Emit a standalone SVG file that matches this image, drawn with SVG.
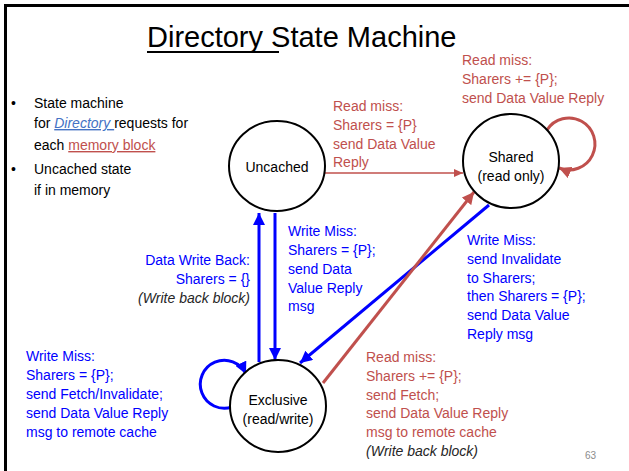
<svg xmlns="http://www.w3.org/2000/svg" width="629" height="471" viewBox="0 0 629 471">
<style>
text{font-family:"Liberation Sans",Arial,sans-serif;}
.t{font-size:14px;}
.r{fill:#C0504D;}
.b{fill:#0000FF;}
.k{fill:#000000;}
.i{font-style:italic;fill:#262626;}
.node{fill:#FFFFFF;stroke:#000000;stroke-width:2;}
.nt{font-size:14px;fill:#000000;text-anchor:middle;}
.bl{stroke:#0000FF;stroke-width:3;fill:none;}
.rl{stroke:#C0504D;stroke-width:3;fill:none;}
.rt{stroke:#C0504D;stroke-width:1.5;fill:none;}
</style>
<defs>
<marker id="ab" markerUnits="userSpaceOnUse" markerWidth="14" markerHeight="12" refX="12" refY="6" orient="auto"><path d="M0,0 L12,6 L0,12 Z" fill="#0000FF"/></marker>
<marker id="ar" markerUnits="userSpaceOnUse" markerWidth="14" markerHeight="12" refX="12" refY="6" orient="auto"><path d="M0,0 L12,6 L0,12 Z" fill="#C0504D"/></marker>
<marker id="ars" markerUnits="userSpaceOnUse" markerWidth="10" markerHeight="8" refX="9" refY="4" orient="auto"><path d="M0,0 L9,4 L0,8 Z" fill="#C0504D"/></marker>
</defs>
<rect width="629" height="471" fill="#FFFFFF"/>
<path d="M5.5,471 L5.5,5.5 L629,5.5" fill="none" stroke="#000000" stroke-width="3"/>

<g id="title">
<text x="147" y="47" font-size="29" fill="#000000">Directory State Machine</text>
<line x1="147" y1="52" x2="279" y2="52" stroke="#000000" stroke-width="2"/>
</g>

<g id="bullets" class="t">
<text x="11" y="108" class="k">•</text>
<text x="34" y="108" class="k">State machine</text>
<text x="34" y="128" class="k">for <tspan fill="#4472C4" font-style="italic" text-decoration="underline">Directory </tspan>requests for</text>
<text x="34" y="150" class="k">each <tspan fill="#C0504D" text-decoration="underline">memory block</tspan></text>
<text x="11" y="174" class="k">•</text>
<text x="34" y="174" class="k">Uncached state</text>
<text x="34" y="195" class="k">if in memory</text>
</g>

<g id="connectors">
<line class="rt" x1="325" y1="173" x2="463" y2="173" marker-end="url(#ars)"/>
<path class="rl" d="M547,130 A26,26 0 1 1 559,168" marker-end="url(#ar)"/>
<line class="bl" x1="259" y1="362" x2="259" y2="213" marker-end="url(#ab)"/>
<line class="bl" x1="275" y1="213" x2="275" y2="360" marker-end="url(#ab)"/>
<line class="bl" x1="489" y1="205" x2="300" y2="363" marker-end="url(#ab)"/>
<line class="rl" x1="323" y1="383" x2="474" y2="192" marker-end="url(#ar)"/>
<path class="bl" d="M232,407 A24,24 0 1 1 246,374" marker-end="url(#ab)"/>
</g>

<g id="uncached">
<ellipse class="node" cx="277" cy="166" rx="48" ry="45"/>
<text class="nt" x="277" y="172">Uncached</text>
</g>
<g id="shared">
<ellipse class="node" cx="511" cy="161" rx="48" ry="47"/>
<text class="nt" x="511" y="162">Shared</text>
<text class="nt" x="511" y="181">(read only)</text>
</g>
<g id="exclusive">
<ellipse class="node" cx="278" cy="406" rx="48" ry="46"/>
<text class="nt" x="278" y="405">Exclusive</text>
<text class="nt" x="278" y="424">(read/write)</text>
</g>

<g id="labels" class="t">
<text x="462" y="65" class="r">Read miss:</text>
<text x="462" y="84" class="r">Sharers += {P};</text>
<text x="462" y="103" class="r">send Data Value Reply</text>

<text x="333" y="111" class="r">Read miss:</text>
<text x="333" y="130" class="r">Sharers = {P}</text>
<text x="333" y="149" class="r">send Data Value</text>
<text x="333" y="167" class="r">Reply</text>

<text x="250" y="265" class="b" text-anchor="end">Data Write Back:</text>
<text x="250" y="284" class="b" text-anchor="end">Sharers = {}</text>
<text x="250" y="303" class="i" text-anchor="end">(Write back block)</text>

<text x="288" y="236" class="b">Write Miss:</text>
<text x="288" y="255" class="b">Sharers = {P};</text>
<text x="288" y="274" class="b">send Data</text>
<text x="288" y="293" class="b">Value Reply</text>
<text x="288" y="311" class="b">msg</text>

<text x="467" y="245" class="b">Write Miss:</text>
<text x="467" y="264" class="b">send Invalidate</text>
<text x="467" y="283" class="b">to Sharers;</text>
<text x="467" y="301" class="b">then Sharers = {P};</text>
<text x="467" y="320" class="b">send Data Value</text>
<text x="467" y="339" class="b">Reply msg</text>

<text x="26" y="361" class="b">Write Miss:</text>
<text x="26" y="380" class="b">Sharers = {P};</text>
<text x="26" y="399" class="b">send Fetch/Invalidate;</text>
<text x="26" y="418" class="b">send Data Value Reply</text>
<text x="26" y="437" class="b">msg to remote cache</text>

<text x="366" y="362" class="r">Read miss:</text>
<text x="366" y="381" class="r">Sharers += {P};</text>
<text x="366" y="400" class="r">send Fetch;</text>
<text x="366" y="418" class="r">send Data Value Reply</text>
<text x="366" y="437" class="r">msg to remote cache</text>
<text x="366" y="456" class="i">(Write back block)</text>

<text x="585" y="459" font-size="10" fill="#8C8C8C">63</text>
</g>
</svg>
